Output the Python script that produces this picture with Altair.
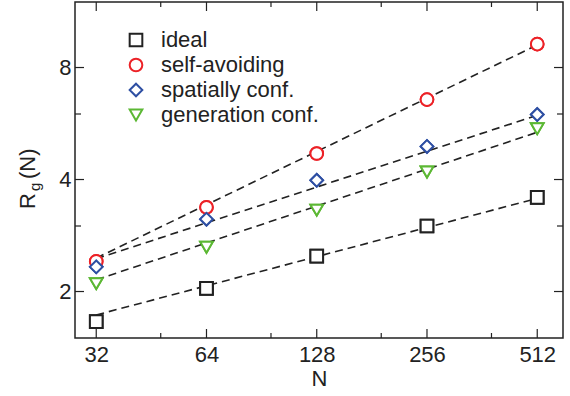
import altair as alt
import pandas as pd

# ---- data ----
N_values = [32, 64, 128, 256, 512]
series_names = ["ideal", "self-avoiding", "spatially conf.", "generation conf."]
rg_ideal = [1.66, 2.04, 2.49, 3.00, 3.58]
rg_self_avoiding = [2.41, 3.37, 4.70, 6.56, 9.25]
rg_spatially = [2.33, 3.13, 3.98, 4.91, 5.98]
rg_generation = [2.10, 2.63, 3.31, 4.19, 5.48]

# fitted (dashed) lines: values at N=32 and N=512
fit_N = [32, 512]
fit_ideal = [1.73, 3.56]
fit_self_avoiding = [2.46, 9.2]
fit_spatially = [2.45, 5.95]
fit_generation = [2.15, 5.36]

x_major = [32, 64, 128, 256, 512]
x_minor = [48, 96, 192, 384]
y_major = [2, 4, 8]
y_minor = [3, 6]

colors = ["#222222", "#ec2227", "#2e4fa3", "#5cb834"]
shapes = ["square", "circle", "diamond", "triangle-down"]

pts = pd.DataFrame({
    "N": N_values * 4,
    "Rg": rg_ideal + rg_self_avoiding + rg_spatially + rg_generation,
    "series": sum([[s] * 5 for s in series_names], []),
})
fits = pd.DataFrame({
    "N": fit_N * 4,
    "Rg": fit_ideal + fit_self_avoiding + fit_spatially + fit_generation,
    "series": sum([[s] * 2 for s in series_names], []),
})

W, H = 488, 336
FONT = "Liberation Sans"
TXT = "#222222"
xscale = alt.Scale(type="log", base=2, domain=[28, 602], nice=False)
yscale = alt.Scale(type="log", base=2, domain=[1.5, 12], nice=False)

xaxis = alt.Axis(values=x_major, ticks=False, domain=False, grid=False,
                 labelFontSize=22, labelPadding=6, titleFontSize=22,
                 titleFontWeight="normal", titlePadding=3,
                 labelColor=TXT, titleColor=TXT, labelFont=FONT, titleFont=FONT)
yaxis = alt.Axis(values=y_major, ticks=False, domain=False, grid=False,
                 labelFontSize=22, labelPadding=4, labelColor=TXT, labelFont=FONT)


def X(field):
    return alt.X(field, scale=xscale, axis=xaxis, title="N")


def Y(field):
    return alt.Y(field, scale=yscale, axis=yaxis, title=None)


lines = alt.Chart(fits).mark_line(
    color=TXT, strokeWidth=1.6, strokeDash=[8, 5]
).encode(
    x=X("N:Q"),
    y=Y("Rg:Q"),
    detail="series:N",
)

points = alt.Chart(pts).mark_point(
    fill="white", strokeWidth=2, size=160, opacity=1
).encode(
    x=X("N:Q"),
    y=Y("Rg:Q"),
    stroke=alt.Stroke("series:N", scale=alt.Scale(domain=series_names, range=colors),
                      legend=alt.Legend(title=None)),
    shape=alt.Shape("series:N", scale=alt.Scale(domain=series_names, range=shapes),
                    legend=alt.Legend(title=None)),
)

tick_df_x_major = pd.DataFrame({"N": x_major})
tick_df_x_minor = pd.DataFrame({"N": x_minor})
tick_df_y_major = pd.DataFrame({"Rg": y_major})
tick_df_y_minor = pd.DataFrame({"Rg": y_minor})


def xticks(df, length):
    bottom = alt.Chart(df).mark_rule(color=TXT, strokeWidth=1.2).encode(
        x=X("N:Q"), y=alt.value(H), y2=alt.value(H - length))
    top = alt.Chart(df).mark_rule(color=TXT, strokeWidth=1.2).encode(
        x=X("N:Q"), y=alt.value(0), y2=alt.value(length))
    return bottom + top


def yticks(df, length):
    left = alt.Chart(df).mark_rule(color=TXT, strokeWidth=1.2).encode(
        y=Y("Rg:Q"), x=alt.value(0), x2=alt.value(length))
    right = alt.Chart(df).mark_rule(color=TXT, strokeWidth=1.2).encode(
        y=Y("Rg:Q"), x=alt.value(W), x2=alt.value(W - length))
    return left + right


title_df = pd.DataFrame({"t": ["R"]})
t_R = alt.Chart(title_df).mark_text(
    text="R", angle=270, align="left", baseline="alphabetic", fontSize=22,
    font=FONT, color=TXT).encode(x=alt.value(-40), y=alt.value(207))
t_g = alt.Chart(title_df).mark_text(
    text="g", angle=270, align="left", baseline="alphabetic", fontSize=15,
    font=FONT, color=TXT).encode(x=alt.value(-35), y=alt.value(189))
t_N = alt.Chart(title_df).mark_text(
    text="(N)", angle=270, align="left", baseline="alphabetic", fontSize=22,
    font=FONT, color=TXT).encode(x=alt.value(-40), y=alt.value(177))

chart = alt.layer(
    points, lines,
    xticks(tick_df_x_major, 9), xticks(tick_df_x_minor, 5),
    yticks(tick_df_y_major, 9), yticks(tick_df_y_minor, 6),
    points, t_R, t_g, t_N,
).properties(
    width=W, height=H,
    autosize=alt.AutoSizeParams(type="none"),
    padding={"left": 75, "top": 2, "right": 7, "bottom": 58},
).configure_view(
    stroke=TXT, strokeWidth=1.5
).configure_legend(
    orient="none", legendX=50, legendY=27, labelFontSize=22, labelFont=FONT,
    labelColor=TXT, symbolSize=160, symbolStrokeWidth=2,
    symbolFillColor="white", rowPadding=3, labelOffset=14,
)

chart.save("out.html", embed_options={"renderer": "svg", "actions": False})
